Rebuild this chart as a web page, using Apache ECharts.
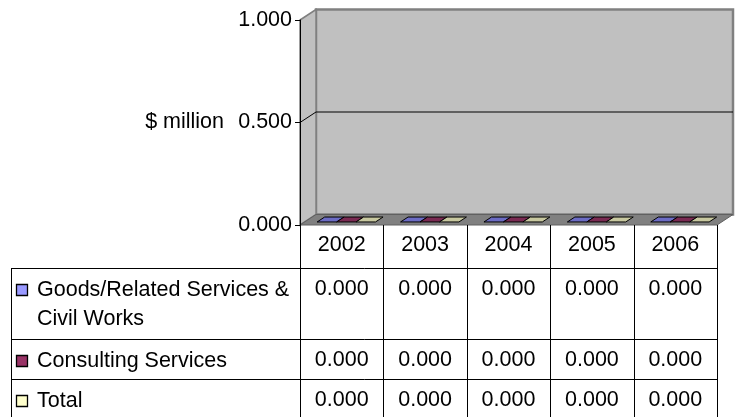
<!DOCTYPE html>
<html><head><meta charset="utf-8">
<script src="https://cdn.jsdelivr.net/npm/echarts@6/dist/echarts.min.js"></script>
<style>html,body{margin:0;padding:0;background:#fff}#c{width:740px;height:417px}</style>
</head><body><div id="c"></div>
<script>
// ---- data ----
const categories = ['2002', '2003', '2004', '2005', '2006'];
const goodsCivil = [0, 0, 0, 0, 0];
const consulting = [0, 0, 0, 0, 0];
const totals = [0, 0, 0, 0, 0];
const seriesNames = ['Goods/Related Services &\nCivil Works', 'Consulting Services', 'Total'];
const yTicks = [0, 0.5, 1];
const yAxisName = '$ million';

// ---- style ----
const FONT = '"Liberation Sans", Arial, sans-serif';
const FS = 21.5;
const colors = ['#9999FF', '#993366', '#FFFFCC'];
const topColors = ['#6c6cc4', '#7a2a52', '#c8c8a0'];
const DX = 16, DY = -10.5;
const seriesData = [goodsCivil, consulting, totals];
const ROW_OFF = [43, 114, 154, 192]; // row boundaries below grid bottom
const TABLE_LEFT = 11;

function wallsRender(params, api) {
  const cs = params.coordSys;
  const x0 = cs.x, y0 = cs.y, w = cs.width, h = cs.height, yb = y0 + h;
  const ch = [];
  ch.push({type: 'rect', shape: {x: x0 + DX, y: y0 + DY, width: w, height: h},
    style: {fill: '#C0C0C0', stroke: '#808080', lineWidth: 2.5}});
  ch.push({type: 'polygon', shape: {points: [[x0, y0], [x0 + DX, y0 + DY], [x0 + DX, yb + DY], [x0, yb]]},
    style: {fill: '#C0C0C0', stroke: '#808080', lineWidth: 1.5}});
  ch.push({type: 'polygon', shape: {points: [[x0, yb], [x0 + DX, yb + DY], [x0 + w + DX, yb + DY], [x0 + w, yb]]},
    style: {fill: '#808080', stroke: '#606060', lineWidth: 1}});
  yTicks.forEach(function (t) {
    if (t === yTicks[0] || t === yTicks[yTicks.length - 1]) return;
    const y = api.coord([0, t])[1];
    ch.push({type: 'polyline', shape: {points: [[x0, y], [x0 + DX, y + DY], [x0 + w + DX, y + DY]]},
      style: {stroke: '#000', lineWidth: 1, fill: null}});
  });
  return {type: 'group', children: ch};
}

function makeBarRender(k) {
  return function (params, api) {
    const ci = api.value(0), v = api.value(1);
    const base = api.coord([ci, 0]);
    const top = api.coord([ci, v]);
    const cw = api.size([1, 0])[0];
    const gw = cw * 0.70, bw = gw / 3;
    const xl = base[0] - gw / 2 + k * bw;
    const f0 = 0.29, f1 = 0.76;
    const ox0 = DX * f0, oy0 = DY * f0, ox1 = DX * f1, oy1 = DY * f1;
    const st = {stroke: '#000', lineWidth: 1};
    const ch = [];
    const hgt = base[1] - top[1];
    if (hgt > 0.5) {
      ch.push({type: 'rect', shape: {x: xl + ox0, y: top[1] + oy0, width: bw, height: hgt},
        style: Object.assign({fill: colors[k]}, st)});
      ch.push({type: 'polygon', shape: {points: [[xl + bw + ox0, top[1] + oy0], [xl + bw + ox1, top[1] + oy1], [xl + bw + ox1, base[1] + oy1], [xl + bw + ox0, base[1] + oy0]]},
        style: Object.assign({fill: topColors[k]}, st)});
    }
    ch.push({type: 'polygon', shape: {points: [[xl + ox0, top[1] + oy0], [xl + ox1, top[1] + oy1], [xl + bw + ox1, top[1] + oy1], [xl + bw + ox0, top[1] + oy0]]},
      style: Object.assign({fill: topColors[k]}, st)});
    return {type: 'group', children: ch};
  };
}

function tableFrameRender(params, api) {
  const cs = params.coordSys;
  const x0 = cs.x, w = cs.width, yb = cs.y + cs.height;
  const cw = api.size([1, 0])[0];
  const ch = [];
  const ln = (a, b, c, d) => ({type: 'line', shape: {x1: a, y1: b, x2: c, y2: d}, style: {stroke: '#000', lineWidth: 1}});
  for (let i = 0; i <= categories.length; i++) {
    const x = Math.round(x0 + i * cw) + 0.5;
    ch.push(ln(x, yb, x, yb + ROW_OFF[3] + 5));
  }
  for (let r = 0; r < 3; r++) {
    const y = Math.round(yb + ROW_OFF[r]) + 0.5;
    ch.push(ln(TABLE_LEFT + 0.5, y, x0 + w, y));
  }
  ch.push(ln(TABLE_LEFT + 0.5, yb + ROW_OFF[0], TABLE_LEFT + 0.5, yb + ROW_OFF[3] + 5));
  seriesNames.forEach(function (name, r) {
    const yc = yb + ROW_OFF[r] + 22;
    ch.push({type: 'rect', shape: {x: 16.5, y: Math.round(yc - 6) + 0.5, width: 11, height: 11},
      style: {fill: colors[r], stroke: '#000', lineWidth: 1.3}});
    name.split('\n').forEach(function (line, j) {
      ch.push({type: 'text', x: 37, y: yc + j * 29,
        style: {text: line, font: FS + 'px ' + FONT, fill: '#000', verticalAlign: 'middle', align: 'left'}});
    });
  });
  return {type: 'group', children: ch};
}

function cellRender(params, api) {
  const cs = params.coordSys;
  const yb = cs.y + cs.height;
  const ci = api.value(0), r = api.value(1), v = api.value(2);
  const x = api.coord([ci, 0])[0];
  return {type: 'text', x: x, y: yb + ROW_OFF[r] + 21,
    style: {text: v.toFixed(3), font: FS + 'px ' + FONT, fill: '#000', align: 'center', verticalAlign: 'middle'}};
}

const cellData = [];
seriesData.forEach(function (arr, r) { arr.forEach(function (v, i) { cellData.push([i, r, v]); }); });

const option = {
  animation: false,
  backgroundColor: '#fff',
  grid: {left: 300, right: 23, top: 20, bottom: 192},
  xAxis: {
    type: 'category', data: categories,
    axisLine: {show: false}, axisTick: {show: false},
    axisLabel: {fontSize: FS, fontFamily: FONT, color: '#000', margin: 9}
  },
  yAxis: {
    type: 'value', min: 0, max: 1, interval: 0.5, z: 10,
    name: yAxisName, nameLocation: 'middle', nameRotate: 0, nameGap: 76,
    nameTextStyle: {fontSize: FS, fontFamily: FONT, color: '#000', align: 'right', verticalAlign: 'middle'},
    axisLine: {show: true, lineStyle: {color: '#000', width: 1}},
    axisTick: {show: true, length: 5, lineStyle: {color: '#000'}},
    axisLabel: {fontSize: FS, fontFamily: FONT, color: '#000', margin: 8, formatter: v => v.toFixed(3)},
    splitLine: {show: false}
  },
  series: [
    {type: 'custom', name: 'walls', z: 0, renderItem: wallsRender, data: [[0, 0]], silent: true},
    {type: 'custom', name: 'Goods', z: 3, renderItem: makeBarRender(0), data: goodsCivil.map((v, i) => [i, v])},
    {type: 'custom', name: 'Consulting', z: 3, renderItem: makeBarRender(1), data: consulting.map((v, i) => [i, v])},
    {type: 'custom', name: 'Total', z: 3, renderItem: makeBarRender(2), data: totals.map((v, i) => [i, v])},
    {type: 'custom', name: 'tableFrame', z: 4, renderItem: tableFrameRender, data: [[0, 0]], silent: true},
    {type: 'custom', name: 'cells', z: 4, renderItem: cellRender, data: cellData, encode: {x: 0, y: 1}}
  ]
};
const chart = echarts.init(document.getElementById('c'));
chart.setOption(option);
</script></body></html>
